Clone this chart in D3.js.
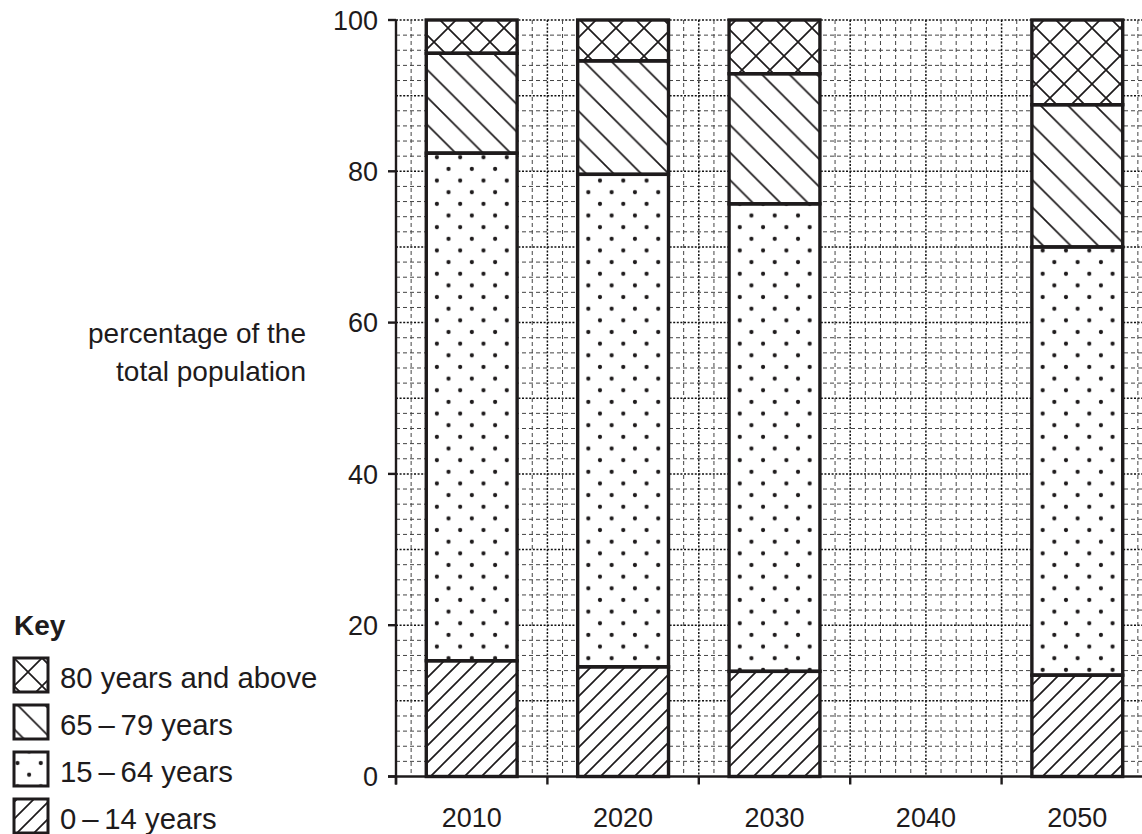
<!DOCTYPE html>
<html>
<head>
<meta charset="utf-8">
<script src="https://cdn.jsdelivr.net/npm/d3@7"></script>
<style>
  html, body { margin: 0; padding: 0; background: #fff; }
  svg { display: block; }
  text { font-family: "Liberation Sans", Arial, Helvetica, sans-serif; fill: #1e1b1c; }
</style>
</head>
<body>
<svg id="chart" width="1142" height="834"></svg>
<script>
// ---- data ----
const years = ["2010", "2020", "2030", "2040", "2050"];
const age0to14   = [15.3, 14.5, 13.9, null, 13.4];
const age15to64  = [67.1, 65.1, 61.8, null, 56.6];
const age65to79  = [13.2, 15.0, 17.2, null, 18.8];
const age80plus  = [4.4,  5.4,  7.1,  null, 11.2];
const seriesKeys = ["0-14", "15-64", "65-79", "80+"];
const legendLabels = ["80 years and above", "65\u2009\u2013\u200979 years", "15\u2009\u2013\u200964 years", "0\u2009\u2013\u200914 years"];
const legendKeys = ["80+", "65-79", "15-64", "0-14"];
const yTicks = [0, 20, 40, 60, 80, 100];

const W = 1142, H = 834;
const svg = d3.select("#chart");
const ink = "#1e1b1c";

// ---- scales ----
const x0 = 396, step = 151.4;
const x = d3.scaleBand().domain(years).range([x0, x0 + step * years.length])
  .paddingInner(0.4).paddingOuter(0.2);
const y = d3.scaleLinear().domain([0, 100]).range([776.5, 20]);
const xg = d3.scaleLinear().domain([0, 10 * years.length]).range([x0, x0 + step * years.length]);

// ---- patterns ----
const defs = svg.append("defs");
function pat(id, w, h) {
  const p = defs.append("pattern").attr("id", id).attr("patternUnits", "userSpaceOnUse")
    .attr("width", w).attr("height", h);
  p.append("rect").attr("width", w).attr("height", h).attr("fill", "#fff");
  return p;
}
{
  const s = 17;
  const p = pat("p0-14", s, s);
  p.append("path").attr("d", `M${-s/2},${s/2} L${s/2},${-s/2} M0,${s} L${s},0 M${s/2},${s*1.5} L${s*1.5},${s/2}`)
    .attr("stroke", ink).attr("stroke-width", 1.7);
}
{
  const s = 27.5;
  const p = pat("p65-79", s, s);
  p.append("path").attr("d", `M${-s/2},${s/2} L${s/2},${s*1.5} M0,0 L${s},${s} M${s/2},${-s/2} L${s*1.5},${s/2}`)
    .attr("stroke", ink).attr("stroke-width", 1.7);
}
{
  const s = 28;
  const p = pat("p80+", s, s);
  p.append("path").attr("d", `M0,0 L${s},${s} M${-s/2},${s/2} L${s/2},${s*1.5} M${s/2},${-s/2} L${s*1.5},${s/2} M0,${s} L${s},0 M${-s/2},${s/2} L${s/2},${-s/2} M${s/2},${s*1.5} L${s*1.5},${s/2}`)
    .attr("stroke", ink).attr("stroke-width", 1.7);
}
{
  const s = 23.3;
  const p = pat("p15-64", s, s);
  [[s/4, s/4], [s*3/4, s*3/4]].forEach(([cx, cy]) =>
    p.append("circle").attr("cx", cx).attr("cy", cy).attr("r", 2.1).attr("fill", ink));
}

// ---- grid ----
const grid = svg.append("g");
d3.range(2, 101, 2).forEach(v => {
  const major = v % 10 === 0;
  grid.append("line").attr("x1", x0).attr("x2", W).attr("y1", y(v)).attr("y2", y(v))
    .attr("stroke", major ? "#111" : "#444").attr("stroke-width", major ? 1.5 : 1)
    .attr("stroke-dasharray", major ? "2,1.6" : "4,3");
});
d3.range(1, 10 * years.length + 1).forEach(i => {
  const xv = xg(i);
  if (xv > W + 1) return;
  const major = i % 5 === 0;
  grid.append("line").attr("x1", xv).attr("x2", xv).attr("y1", y(100)).attr("y2", y(0))
    .attr("stroke", major ? "#111" : "#444").attr("stroke-width", major ? 1.5 : 1)
    .attr("stroke-dasharray", major ? "2,1.6" : "4,3");
});

// ---- bars ----
const table = years.map((yr, i) => ({
  year: yr, "0-14": age0to14[i], "15-64": age15to64[i], "65-79": age65to79[i], "80+": age80plus[i]
}));
const present = table.filter(d => d["0-14"] !== null);
const stacked = d3.stack().keys(seriesKeys)(present);
const barG = svg.append("g");
stacked.forEach(layer => {
  barG.selectAll(null).data(layer).enter().append("rect")
    .attr("x", d => x(d.data.year))
    .attr("width", x.bandwidth())
    .attr("y", d => y(d[1]))
    .attr("height", d => y(d[0]) - y(d[1]))
    .attr("fill", `url(#p${layer.key})`);
});
stacked.forEach(layer => {
  barG.selectAll(null).data(layer).enter().append("rect")
    .attr("x", d => x(d.data.year))
    .attr("width", x.bandwidth())
    .attr("y", d => y(d[1]))
    .attr("height", d => y(d[0]) - y(d[1]))
    .attr("fill", "none")
    .attr("stroke", ink).attr("stroke-width", 3.4);
});

// ---- axes ----
const axG = svg.append("g");
axG.append("line").attr("x1", x0).attr("x2", x0).attr("y1", y(100)).attr("y2", y(0) + 8)
  .attr("stroke", ink).attr("stroke-width", 2.4);
axG.append("line").attr("x1", x0 - 8).attr("x2", W).attr("y1", y(0)).attr("y2", y(0))
  .attr("stroke", ink).attr("stroke-width", 2.4);
yTicks.forEach(t => {
  axG.append("line").attr("x1", x0 - 8).attr("x2", x0).attr("y1", y(t)).attr("y2", y(t))
    .attr("stroke", ink).attr("stroke-width", 2.4);
  axG.append("text").attr("x", 378).attr("y", y(t)).attr("dy", "0.36em")
    .attr("text-anchor", "end").attr("font-size", 27).text(t);
});
years.forEach(yr => {
  const xe = x(yr) - x.step() * 0.2;
  axG.append("line").attr("x1", xe).attr("x2", xe).attr("y1", y(0)).attr("y2", y(0) + 8)
    .attr("stroke", ink).attr("stroke-width", 2.4);
  axG.append("text").attr("x", x(yr) + x.bandwidth() / 2).attr("y", 827)
    .attr("text-anchor", "middle").attr("font-size", 27).text(yr);
});

// y axis title
svg.append("text").attr("x", 306).attr("y", 343).attr("text-anchor", "end")
  .attr("font-size", 28).text("percentage of the");
svg.append("text").attr("x", 306).attr("y", 381).attr("text-anchor", "end")
  .attr("font-size", 28).text("total population");

// ---- legend ----
const lg = svg.append("g");
lg.append("text").attr("x", 14).attr("y", 635).attr("font-size", 28).attr("font-weight", "bold").text("Key");
legendKeys.forEach((k, i) => {
  const by = 658 + i * 47;
  const bx = 14;
  lg.append("rect").attr("x", bx).attr("y", by).attr("width", 34).attr("height", 34)
    .attr("fill", `url(#p${k})`).attr("stroke", ink).attr("stroke-width", 3);
  lg.append("text").attr("x", 60).attr("y", by + 30).attr("font-size", 29.3).text(legendLabels[i]);
});
</script>
</body>
</html>
